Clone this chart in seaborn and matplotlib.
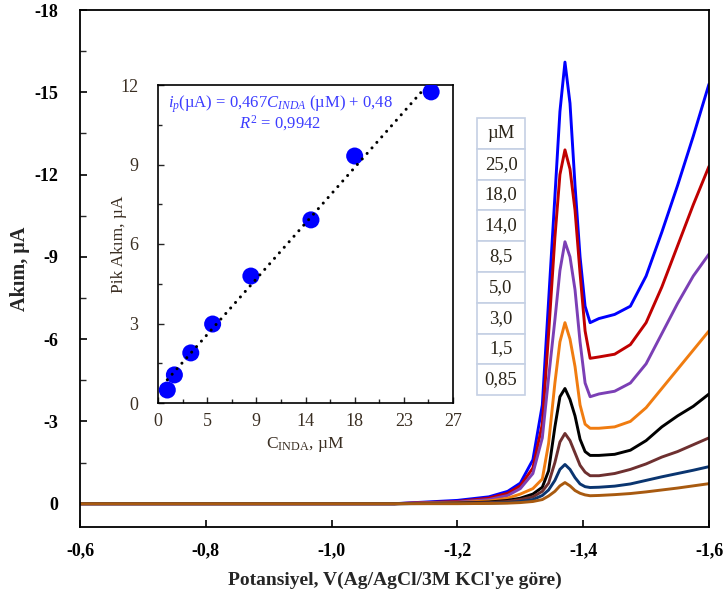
import numpy as np
import pandas as pd
import matplotlib
matplotlib.use("Agg")
import matplotlib.pyplot as plt
from matplotlib.ticker import MultipleLocator
from matplotlib.patches import Rectangle
import seaborn as sns

# ---------------- data ----------------
potential = [-0.60, -1.10, -1.20, -1.25, -1.28, -1.30, -1.32, -1.335, -1.345, -1.355,
             -1.363, -1.371, -1.379, -1.387, -1.395, -1.403, -1.411, -1.425, -1.45,
             -1.475, -1.50, -1.525, -1.55, -1.575, -1.60]

conc_labels = ["25,0", "18,0", "14,0", "8,5", "5,0", "3,0", "1,5", "0,85"]

i_25 = [0, 0, -0.12, -0.25, -0.45, -0.75, -1.6, -3.6, -7.4, -11.2, -14.3, -16.1, -14.6,
        -11.6, -9.0, -7.2, -6.6, -6.75, -6.9, -7.2, -8.3, -9.9, -11.6, -13.4, -15.3]
i_18 = [0, 0, -0.08, -0.2, -0.38, -0.65, -1.3, -2.9, -6.2, -9.7, -12.0, -12.9, -12.2,
        -10.7, -8.4, -6.3, -5.3, -5.35, -5.45, -5.8, -6.6, -7.9, -9.4, -10.9, -12.3]
i_14 = [0, 0, -0.06, -0.15, -0.3, -0.55, -1.1, -2.4, -4.6, -6.7, -8.5, -9.55, -9.0,
        -7.8, -5.9, -4.4, -3.9, -4.0, -4.1, -4.4, -5.1, -6.2, -7.3, -8.3, -9.1]
i_8_5 = [0, 0, -0.04, -0.1, -0.2, -0.35, -0.55, -0.9, -2.2, -4.4, -5.9, -6.6, -6.0,
         -5.0, -3.6, -2.9, -2.75, -2.75, -2.8, -3.0, -3.5, -4.2, -4.9, -5.6, -6.3]
i_5 = [0, 0, -0.02, -0.06, -0.12, -0.2, -0.35, -0.6, -1.2, -2.8, -3.9, -4.2, -3.8,
       -3.2, -2.35, -1.9, -1.76, -1.76, -1.8, -1.95, -2.3, -2.8, -3.2, -3.55, -4.0]
i_3 = [0, 0, -0.02, -0.04, -0.08, -0.15, -0.25, -0.45, -0.75, -1.5, -2.25, -2.56, -2.3,
       -1.85, -1.4, -1.15, -1.02, -1.02, -1.1, -1.25, -1.45, -1.7, -1.9, -2.15, -2.4]
i_1_5 = [0, 0, -0.01, -0.02, -0.04, -0.08, -0.15, -0.3, -0.5, -0.85, -1.25, -1.43, -1.25,
         -0.95, -0.72, -0.62, -0.59, -0.6, -0.64, -0.72, -0.85, -0.98, -1.1, -1.22, -1.35]
i_0_85 = [0, 0, 0, -0.01, -0.02, -0.04, -0.08, -0.15, -0.28, -0.45, -0.65, -0.77, -0.65,
          -0.48, -0.38, -0.32, -0.29, -0.3, -0.33, -0.37, -0.43, -0.5, -0.57, -0.65, -0.73]

currents = [i_25, i_18, i_14, i_8_5, i_5, i_3, i_1_5, i_0_85]
colors = ["#0000ff", "#c00000", "#7b3fb5", "#f07c10", "#000000", "#6e3030", "#0a3570", "#a85a10"]

# calibration (inset)
cal_conc = [0.85, 1.5, 3.0, 5.0, 8.5, 14.0, 18.0, 25.0]
cal_peak = [0.49, 1.06, 1.89, 2.98, 4.79, 6.91, 9.32, 11.74]
fit_slope, fit_intercept = 0.467, 0.48
fit_range = [0.85, 24.3]

x_ticks = [-0.6, -0.8, -1.0, -1.2, -1.4, -1.6]
x_tick_labels = ["-0,6", "-0,8", "-1,0", "-1,2", "-1,4", "-1,6"]
y_ticks = [0, -3, -6, -9, -12, -15, -18]
y_tick_labels = ["0", "-3", "-6", "-9", "-12", "-15", "-18"]
in_x_ticks = [0, 4.5, 9, 13.5, 18, 22.5, 27]
in_x_labels = ["0", "5", "9", "14", "18", "23", "27"]
in_y_ticks = [0, 3, 6, 9, 12]
in_y_labels = ["0", "3", "6", "9", "12"]

# ---------------- style ----------------
sns.set_theme(style="white")
plt.rcParams["font.family"] = ["Liberation Serif", "DejaVu Serif"]
plt.rcParams["mathtext.fontset"] = "custom"
plt.rcParams["mathtext.rm"] = "Liberation Serif"
plt.rcParams["mathtext.it"] = "Liberation Serif:italic"
plt.rcParams["mathtext.bf"] = "Liberation Serif:bold"

W, H = 726, 594
fig = plt.figure(figsize=(W / 100, H / 100), dpi=100)
ax = fig.add_axes([80 / W, 1 - 527 / H, 629 / W, 517 / H])

rows = []
for lab, cur in zip(conc_labels, currents):
    for v, c in zip(potential, cur):
        rows.append({"V": v, "I": c, "conc": lab})
df = pd.DataFrame(rows)

sns.lineplot(data=df, x="V", y="I", hue="conc", hue_order=conc_labels,
             palette=colors, ax=ax, legend=False, linewidth=2.1,
             estimator=None, sort=False)

ax.set_xlim(-0.6, -1.6)
ax.set_ylim(0.85, -18)
ax.set_xticks(x_ticks)
ax.set_xticklabels(x_tick_labels, fontsize=13, fontweight="bold")
ax.set_yticks(y_ticks)
ax.set_yticklabels(y_tick_labels, fontsize=13, fontweight="bold")
ax.yaxis.set_minor_locator(MultipleLocator(1.5))
ax.tick_params(axis="x", which="major", direction="in", length=5, width=1.2,
               colors="black", pad=11, bottom=True, top=False)
ax.tick_params(axis="y", which="major", direction="in", length=5, width=1.2,
               colors="black", pad=16, left=True, right=False)
ax.tick_params(axis="y", which="minor", direction="in", length=4, width=1.0, left=True)
for s in ax.spines.values():
    s.set_color("black")
    s.set_linewidth(1.3)
ax.set_xlabel("Potansiyel, V(Ag/AgCl/3M KCl'ye göre)", fontsize=14, fontweight="bold",
              labelpad=9)
ax.set_ylabel("Akım, µA", fontsize=14.5, fontweight="bold")
ax.yaxis.set_label_coords(-0.08, 0.5)

# ---------------- inset ----------------
ax2 = fig.add_axes([158 / W, 1 - 403 / H, 295 / W, 318 / H])
sns.scatterplot(x=cal_conc, y=cal_peak, ax=ax2, color="#0000ff", s=150,
                edgecolor="none", zorder=3)
fx = np.array(fit_range)
ax2.plot(fx, fit_slope * fx + fit_intercept, color="black", lw=2.2,
         linestyle=(0, (0.01, 2.4)), dash_capstyle="round", zorder=4)
ax2.set_xlim(0, 27)
ax2.set_ylim(0, 12)
ax2.set_xticks(in_x_ticks)
ax2.set_xticklabels(in_x_labels, fontsize=13, color="#3a2e22")
ax2.set_yticks(in_y_ticks)
ax2.set_yticklabels(in_y_labels, fontsize=13, color="#3a2e22")
ax2.xaxis.set_minor_locator(MultipleLocator(2.25))
ax2.yaxis.set_minor_locator(MultipleLocator(1.5))
ax2.tick_params(axis="x", which="major", direction="in", length=4, width=1.0,
                pad=7, bottom=True)
ax2.tick_params(axis="y", which="major", direction="in", length=4, width=1.0,
                pad=14, left=True)
ax2.tick_params(axis="both", which="minor", direction="in", length=3, width=1.0,
                bottom=True, left=True)
for s in ax2.spines.values():
    s.set_color("black")
    s.set_linewidth(1.2)
ax2.set_xlabel(r"C$_{\mathrm{INDA}}$, µM", fontsize=12.5, color="#3a2e22", labelpad=4)
ax2.set_ylabel("Pik Akım, µA", fontsize=12.5, color="#3a2e22")
ax2.yaxis.set_label_coords(-0.105, 0.5)
ax2.text(0.415, 0.975,
         "$i_p$(µA) = 0,467$C_{INDA}$ (µM) + 0,48\n$R^2$ = 0,9942",
         transform=ax2.transAxes, ha="center", va="top", multialignment="center",
         fontsize=12, color="#3c3cff", linespacing=0.9)

# ---------------- concentration table ----------------
tx0, tx1 = 477, 525
ty0, rh = 118, 30.8
for k, txt in enumerate(["µM"] + conc_labels):
    y_top = ty0 + rh * k
    fig.patches.append(Rectangle((tx0 / W, 1 - (y_top + rh) / H), (tx1 - tx0) / W, rh / H,
                                 transform=fig.transFigure, facecolor="white",
                                 edgecolor="#c5d0e4", lw=1.2, zorder=5))
    fig.text((tx0 + tx1) / 2 / W, 1 - (y_top + rh / 2) / H, txt, ha="center",
             va="center", fontsize=13.5, color="#2a2418", zorder=6)

fig.savefig("out.png", dpi=100)
